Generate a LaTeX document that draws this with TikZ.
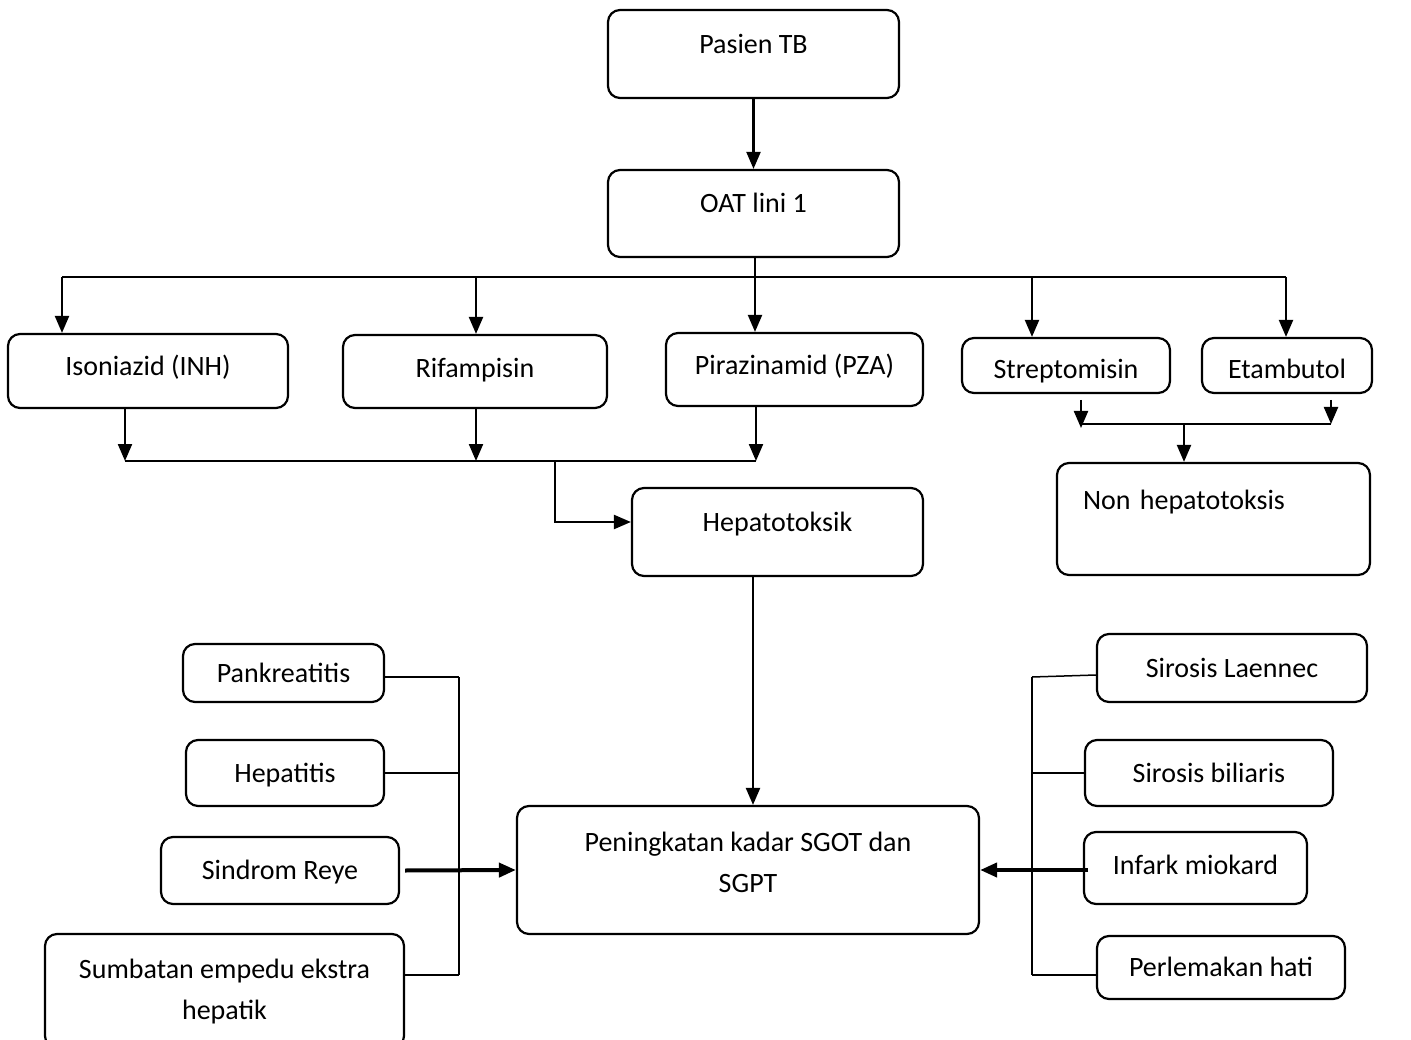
\documentclass[tikz,border=0pt]{standalone}
\usepackage{fontspec}
\setmainfont{Carlito}
\usetikzlibrary{arrows.meta}

\begin{document}
\begin{tikzpicture}[> = {Triangle[length=17pt,width=14pt]}, % arrow head style
                x = 1pt, y = -1pt, % pixel grid, y going down
                line width = 2.2pt % line style
            ]

            \tikzstyle{every node}=[font=\fontsize{28}{41}\selectfont]
            \tikzstyle{box}=[draw = black, rounded corners = 12pt, inner sep = 0pt,
            text height = 18pt, text depth = 0pt, align = center]
            \tikzstyle{thin}=[line width = 1.5pt]
            \tikzstyle{heavy}=[line width = 4pt]

            \useasboundingbox (0,0) rectangle (1411,1040);

            % top of the chart
            \node (pasien) [box, minimum width = 291pt, minimum height = 88pt,
            text depth = 18pt] at (753.5,54) {Pasien TB};
            \node (oat) [box, minimum width = 291pt, minimum height = 87pt,
            text depth = 19pt] at (753.5,213.5) {OAT lini 1};

            % the five drugs
            \node (inh) [box, minimum width = 280pt, minimum height = 74pt,
            text depth = 8pt] at (148,371) {Isoniazid (INH)};
            \node (rif) [box, minimum width = 264pt, minimum height = 73pt,
            text depth = 5pt] at (475,371.5) {Rifampisin};
            \node (pza) [box, minimum width = 257pt, minimum height = 73pt,
            text depth = 7pt] at (794.5,369.5) {Pirazinamid (PZA)};
            \node (strep) [box, minimum width = 208pt, minimum height = 55pt,
            text height = 27pt] at (1066,365.5) {Streptomisin};
            \node (etam) [box, minimum width = 170pt, minimum height = 55pt,
            text height = 27pt] at (1287,365.5) {Etambutol};

            \node (hepa) [box, minimum width = 291pt, minimum height = 88pt,
            text depth = 20pt] at (777.5,532) {Hepatotoksik};
            \node (non) [box, minimum width = 313pt, minimum height = 112pt,
            text depth = 38pt, inner xsep = 26pt, text width = 261pt, align = left]
            at (1213.5,519) {Non hepatotoksis};

            \node (sgot) [box, minimum width = 462pt, minimum height = 128pt,
            text height = 59pt, text depth = 15pt] at (748,870)
            {Peningkatan kadar SGOT dan\\SGPT};

            % left causes
            \node (pank) [box, minimum width = 201pt, minimum height = 58pt]
            at (283.5,673) {Pankreatitis};
            \node (hepat) [box, minimum width = 198pt, minimum height = 66pt]
            at (285,773) {Hepatitis};
            \node (reye) [box, minimum width = 238pt, minimum height = 67pt]
            at (280,870.5) {Sindrom Reye};
            \node (sumb) [box, minimum width = 359pt, minimum height = 114pt,
            text height = 59pt, text depth = 2pt] at (224.5,991)
            {Sumbatan empedu ekstra\\hepatik};

            % right causes
            \node (lae) [box, minimum width = 270pt, minimum height = 68pt]
            at (1232,668) {Sirosis Laennec};
            \node (bil) [box, minimum width = 248pt, minimum height = 66pt]
            at (1209,773) {Sirosis biliaris};
            \node (inf) [box, minimum width = 223pt, minimum height = 72pt,
            text depth = 6pt] at (1195.5,868) {Infark miokard};
            \node (perl) [box, minimum width = 248pt, minimum height = 63pt]
            at (1221,967.5) {Perlemakan hati};

            % split to the drugs
            \coordinate (t1) at (62,277); \coordinate (t2) at (476,277);
            \coordinate (t3) at (755,277); \coordinate (t4) at (1032,277);
            \coordinate (t5) at (1286,277);

            \path[->] (pasien) edge (oat);
            \draw (oat.south -| t3) -- (t3); \draw (t1) -- (t5);
            \draw[->] (t1) -- (t1 |- inh.north); \draw[->] (t2) -- (t2 |- rif.north);
            \draw[->] (t3) -- (t3 |- pza.north); \draw[->] (t4) -- (t4 |- strep.north);
            \draw[->] (t5) -- (t5 |- etam.north);

            % hepatotoxic drugs join
            \coordinate (b1) at (125,461); \coordinate (b2) at (476,461);
            \coordinate (b3) at (756,461);

            \draw[->] (inh.south -| b1) -- (b1); \draw[->] (rif.south -| b2) -- (b2);
            \draw[->] (pza.south -| b3) -- (b3); \draw (b1) -- (b3);
            \draw[->] (b2) -- (555,461) |- ([yshift=10pt]hepa.west);

            % non hepatotoxic drugs join
            \coordinate (s1) at (1081,400); \coordinate (s2) at (1331,400);
            \coordinate (s3) at (1184,424);

            \draw[->] (s1) -- (1081,428); \draw[->] (s2) -- (1331,424);
            \draw (1081,424) -- (1331,424);
            \draw[->] (s3) -- (s3 |- non.north);

            \draw[->] (hepa.south -| 753,0) -- (sgot.north -| 753,0);

            % left bracket
            \coordinate (l1) at (459,677); \coordinate (l2) at (459,975);
            \draw[thin] (l1) -- (l2);
            \draw[thin] (pank.east |- l1) -- (l1);
            \draw[thin] (hepat.east) -- (hepat.east -| l1);
            \draw[thin] (l2 -| sumb.east) -- (l2);
            \draw[heavy, ->] ([xshift=5pt]reye.east) -- (sgot.west);

            % right bracket
            \coordinate (r1) at (1032,677); \coordinate (r2) at (1032,975);
            \draw[thin] (r1) -- (r2);
            \draw[thin] (lae.west |- 0,675) -- (r1);
            \draw[thin] (bil.west) -- (bil.west -| r1);
            \draw[thin] (r2 -| perl.west) -- (r2);
            \draw[heavy, ->] (1088,870) -- (sgot.east);
        \end{tikzpicture}
\end{document}
